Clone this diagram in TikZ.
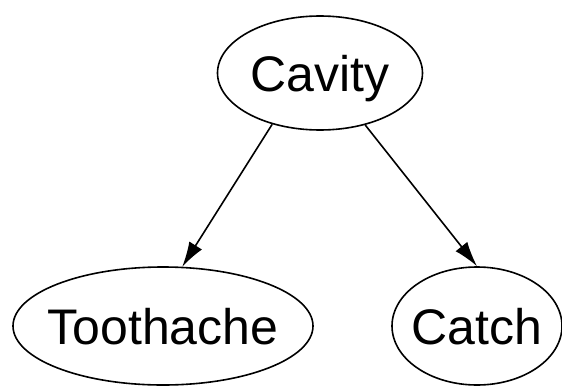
\documentclass[tikz,border=0pt]{standalone}
\usepackage{fontspec}
\setmainfont{Liberation Sans}
\usetikzlibrary{shapes.geometric,arrows.meta}
\newcommand{\lbl}[1]{\makebox[0pt]{\smash{\raisebox{-0.36em}{#1}}}}
\tikzset{
  var/.style={ellipse, draw=black, line width=1.6pt, inner sep=0pt, font=\fontsize{50}{54}\selectfont},
  link/.style={draw=black, line width=1.6pt, -{Latex[length=25pt,width=15pt]}}
}
\begin{document}
\begin{tikzpicture}[x=1pt,y=-1pt]
\useasboundingbox (0,0) rectangle (562,388);
\node[var, minimum width=205pt, minimum height=114pt] (cav) at (320,73) {\lbl{Cavity}};
\node[var, minimum width=300pt, minimum height=118pt] (tooth) at (163,326) {\lbl{Toothache}};
\node[var, minimum width=170pt, minimum height=118pt] (catch) at (477,326) {\lbl{Catch}};
\draw[link] (cav.227) -- (tooth.72);
\draw[link] (cav.311) -- (catch.north);
\end{tikzpicture}
\end{document}
